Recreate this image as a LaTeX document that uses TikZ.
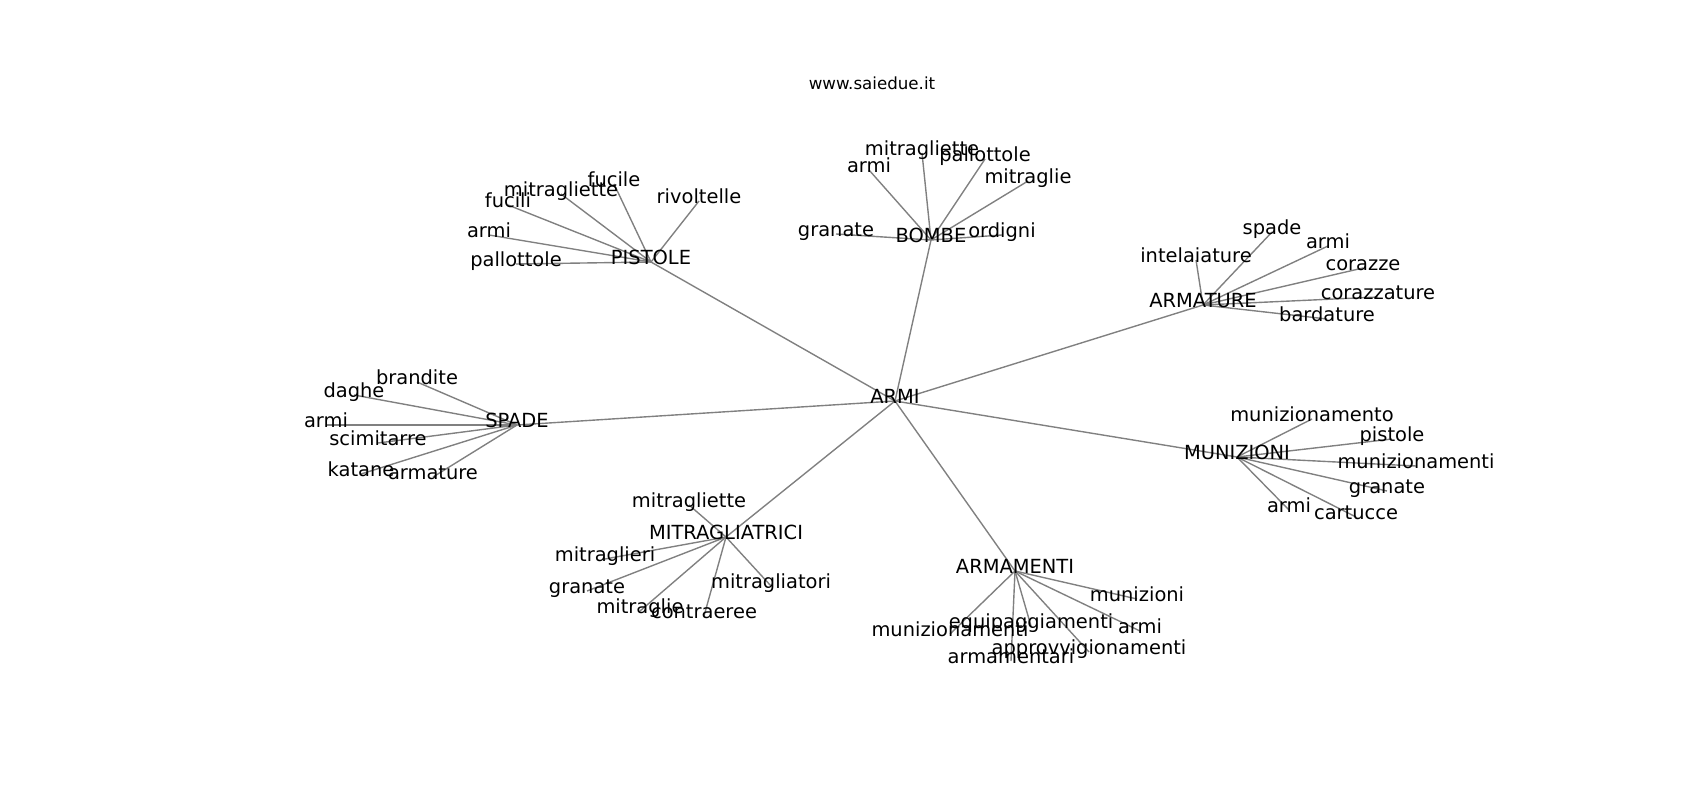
\documentclass[tikz,border=0pt]{standalone}
\usepackage{fontspec}
\setmainfont{DejaVu Sans}
\usetikzlibrary{backgrounds}
\definecolor{edgec}{RGB}{128,128,128}
\tikzset{
  lbl/.style={inner sep=0pt, outer sep=0pt, anchor=center, text height=0.76em, text depth=0.24em,
    font=\fontsize{19.44}{23}\selectfont},
  ttl/.style={inner sep=0pt, outer sep=0pt, anchor=center, text height=0.76em, text depth=0.24em,
    font=\fontsize{16.67}{20}\selectfont},
  edge/.style={draw=edgec, line width=1.39pt}
}
\begin{document}
\begin{tikzpicture}[x=1pt,y=-1pt]
\useasboundingbox (0,-4) rectangle (1700,796);
\node[ttl] (title) at (872,83) {www.saiedue.it};
% hubs
\node[lbl] (armi) at (895,397) {ARMI};
\node[lbl] (pistole) at (651,258) {PISTOLE};
\node[lbl] (bombe) at (931,236) {BOMBE};
\node[lbl] (armature) at (1203,301) {ARMATURE};
\node[lbl] (spade) at (517,421) {SPADE};
\node[lbl] (munizioni) at (1237,453) {MUNIZIONI};
\node[lbl] (mitragliatrici) at (726,533) {MITRAGLIATRICI};
\node[lbl] (armamenti) at (1015,567) {ARMAMENTI};
% PISTOLE leaves
\node[lbl] (p1) at (614,180) {fucile};
\node[lbl] (p2) at (561,190) {mitragliette};
\node[lbl] (p3) at (699,197) {rivoltelle};
\node[lbl] (p4) at (508,201) {fucili};
\node[lbl] (p5) at (489,231) {armi};
\node[lbl] (p6) at (516,260) {pallottole};
% BOMBE leaves
\node[lbl] (b1) at (836,230) {granate};
\node[lbl] (b2) at (1002,231) {ordigni};
\node[lbl] (b3) at (1028,177) {mitraglie};
\node[lbl] (b4) at (985,155) {pallottole};
\node[lbl] (b5) at (922,149) {mitragliette};
\node[lbl] (b6) at (869,166) {armi};
% ARMATURE leaves
\node[lbl] (a1) at (1196,256) {intelaiature};
\node[lbl] (a2) at (1272,228) {spade};
\node[lbl] (a3) at (1328,242) {armi};
\node[lbl] (a4) at (1363,264) {corazze};
\node[lbl] (a5) at (1378,293) {corazzature};
\node[lbl] (a6) at (1327,315) {bardature};
% SPADE leaves
\node[lbl] (s1) at (417,378) {brandite};
\node[lbl] (s2) at (354,391) {daghe};
\node[lbl] (s3) at (326,421) {armi};
\node[lbl] (s4) at (378,439) {scimitarre};
\node[lbl] (s5) at (361,470) {katane};
\node[lbl] (s6) at (433,473) {armature};
% MUNIZIONI leaves
\node[lbl] (m1) at (1312,415) {munizionamento};
\node[lbl] (m2) at (1392,435) {pistole};
\node[lbl] (m3) at (1416,462) {munizionamenti};
\node[lbl] (m4) at (1387,487) {granate};
\node[lbl] (m5) at (1289,506) {armi};
\node[lbl] (m6) at (1356,513) {cartucce};
% MITRAGLIATRICI leaves
\node[lbl] (t1) at (689,501) {mitragliette};
\node[lbl] (t2) at (605,555) {mitraglieri};
\node[lbl] (t3) at (587,587) {granate};
\node[lbl] (t4) at (640,607) {mitraglie};
\node[lbl] (t5) at (704,612) {contraeree};
\node[lbl] (t6) at (771,582) {mitragliatori};
% ARMAMENTI leaves
\node[lbl] (r1) at (1137,595) {munizioni};
\node[lbl] (r2) at (1031,622) {equipaggiamenti};
\node[lbl] (r3) at (1140,627) {armi};
\node[lbl] (r4) at (950,630) {munizionamenti};
\node[lbl] (r5) at (1089,648) {approvvigionamenti};
\node[lbl] (r6) at (1011,657) {armamentari};
\begin{scope}[on background layer]
\foreach \h in {pistole,bombe,armature,spade,munizioni,mitragliatrici,armamenti}
  \draw[edge] (armi.center) -- (\h.center);
\foreach \l in {p1,p2,p3,p4,p5,p6} \draw[edge] (pistole.center) -- (\l.center);
\foreach \l in {b1,b2,b3,b4,b5,b6} \draw[edge] (bombe.center) -- (\l.center);
\foreach \l in {a1,a2,a3,a4,a5,a6} \draw[edge] (armature.center) -- (\l.center);
\foreach \l in {s1,s2,s3,s4,s5,s6} \draw[edge] (spade.center) -- (\l.center);
\foreach \l in {m1,m2,m3,m4,m5,m6} \draw[edge] (munizioni.center) -- (\l.center);
\foreach \l in {t1,t2,t3,t4,t5,t6} \draw[edge] (mitragliatrici.center) -- (\l.center);
\foreach \l in {r1,r2,r3,r4,r5,r6} \draw[edge] (armamenti.center) -- (\l.center);
\end{scope}
\end{tikzpicture}
\end{document}
